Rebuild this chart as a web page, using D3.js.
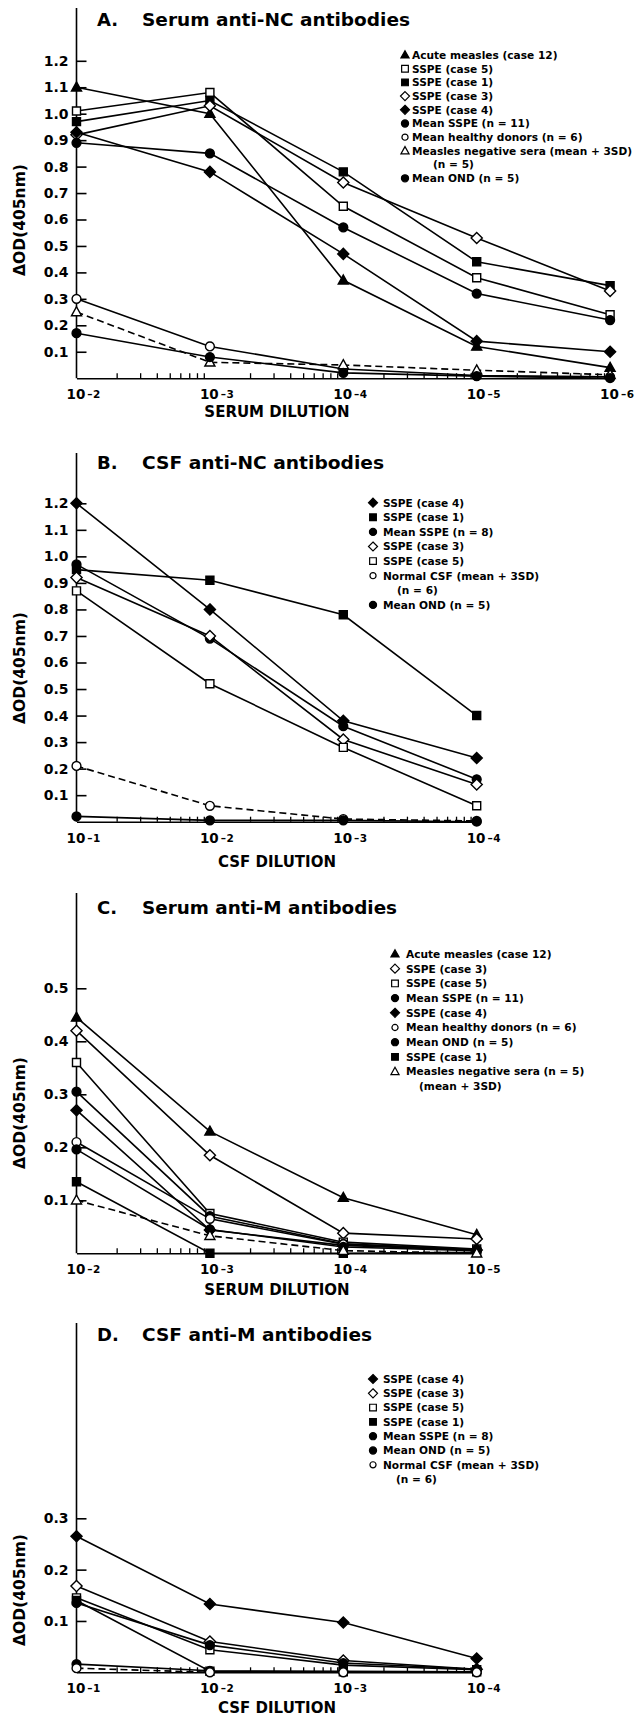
<!DOCTYPE html>
<html>
<head>
<meta charset="utf-8">
<script src="https://cdn.jsdelivr.net/npm/d3@7"></script>
<style>
  body { margin: 0; background: #fff; }
  text { font-family: 'DejaVu Sans', 'Liberation Sans', sans-serif; font-weight: bold; fill: #000; }
</style>
</head>
<body>
<div id="plot"></div>
<script>
// ---- data ----
// dilutions are given as exponents: 2 -> 10^-2
const serumNCDilutions = [2, 3, 4, 5, 6];
const serumNCTicks = [0.1, 0.2, 0.3, 0.4, 0.5, 0.6, 0.7, 0.8, 0.9, 1.0, 1.1, 1.2];
const serumNCSeries = ["Acute measles (case 12)", "SSPE (case 5)", "SSPE (case 1)", "SSPE (case 3)", "SSPE (case 4)",
  "Mean SSPE (n = 11)", "Mean healthy donors (n = 6)", "Measles negative sera (mean + 3SD)\n(n = 5)", "Mean OND (n = 5)"];
const serumNCValues = [
  [1.10, 1.00, 0.37, 0.12, 0.04],
  [1.01, 1.08, 0.65, 0.38, 0.24],
  [0.97, 1.05, 0.78, 0.44, 0.35],
  [0.92, 1.03, 0.74, 0.53, 0.33],
  [0.93, 0.78, 0.47, 0.14, 0.10],
  [0.89, 0.85, 0.57, 0.32, 0.22],
  [0.30, 0.12, 0.035, 0.01, 0.005],
  [0.25, 0.06, 0.05, 0.03, 0.013],
  [0.17, 0.08, 0.02, 0.008, 0.0]
];

const csfNCDilutions = [1, 2, 3, 4];
const csfNCTicks = [0.1, 0.2, 0.3, 0.4, 0.5, 0.6, 0.7, 0.8, 0.9, 1.0, 1.1, 1.2];
const csfNCSeries = ["SSPE (case 4)", "SSPE (case 1)", "Mean SSPE (n = 8)", "SSPE (case 3)", "SSPE (case 5)",
  "Normal CSF  (mean + 3SD)\n(n = 6)", "Mean OND (n = 5)"];
const csfNCValues = [
  [1.20, 0.80, 0.38, 0.24],
  [0.95, 0.91, 0.78, 0.40],
  [0.97, 0.69, 0.36, 0.16],
  [0.92, 0.70, 0.31, 0.14],
  [0.87, 0.52, 0.28, 0.06],
  [0.21, 0.06, 0.01, 0.003],
  [0.02, 0.005, 0.005, 0.0]
];

const serumMDilutions = [2, 3, 4, 5];
const serumMTicks = [0.1, 0.2, 0.3, 0.4, 0.5];
const serumMSeries = ["Acute measles (case 12)", "SSPE (case 3)", "SSPE (case 5)", "Mean SSPE (n = 11)", "SSPE (case 4)",
  "Mean healthy donors (n = 6)", "Mean OND (n = 5)", "SSPE (case 1)", "Measles negative sera (n = 5)\n(mean + 3SD)"];
const serumMValues = [
  [0.445, 0.23, 0.105, 0.035],
  [0.42, 0.185, 0.038, 0.027],
  [0.36, 0.075, 0.021, 0.008],
  [0.305, 0.07, 0.018, 0.007],
  [0.27, 0.044, 0.015, 0.006],
  [0.21, 0.065, 0.017, 0.006],
  [0.196, 0.045, 0.012, 0.005],
  [0.135, 0.0, 0.0, 0.002],
  [0.10, 0.033, 0.005, 0.0]
];

const csfMDilutions = [1, 2, 3, 4];
const csfMTicks = [0.1, 0.2, 0.3];
const csfMSeries = ["SSPE (case 4)", "SSPE (case 3)", "SSPE (case 5)", "SSPE (case 1)", "Mean SSPE (n = 8)",
  "Mean OND (n = 5)", "Normal CSF  (mean + 3SD)\n(n = 6)"];
const csfMValues = [
  [0.265, 0.133, 0.097, 0.027],
  [0.168, 0.06, 0.023, 0.006],
  [0.145, 0.044, 0.014, 0.005],
  [0.14, 0.002, 0.001, 0.001],
  [0.135, 0.053, 0.018, 0.006],
  [0.016, 0.003, 0.002, 0.001],
  [0.008, 0.0, 0.0, 0.0]
];

// ---- layout of the four panels ----
const panels = [
  { label: "A.", title: "Serum anti-NC antibodies", titleLen: 268, xTitle: "SERUM DILUTION",
    dil: serumNCDilutions, ticks: serumNCTicks, names: serumNCSeries, values: serumNCValues,
    top: 8, base: 378.2, ref: 1.2, refY: 60.8, titleY: 20, xTitleY: 412, yLabelY: 220,
    legX: 405, legTextX: 412, legY: 55, legDy: 13.7, indent: 21 },
  { label: "B.", title: "CSF anti-NC antibodies", titleLen: 242, xTitle: "CSF DILUTION",
    dil: csfNCDilutions, ticks: csfNCTicks, names: csfNCSeries, values: csfNCValues,
    top: 453, base: 821.7, ref: 1.2, refY: 503.3, titleY: 463, xTitleY: 862, yLabelY: 668,
    legX: 373, legTextX: 383, legY: 502.7, legDy: 14.6, indent: 14 },
  { label: "C.", title: "Serum anti-M antibodies", titleLen: 255, xTitle: "SERUM DILUTION",
    dil: serumMDilutions, ticks: serumMTicks, names: serumMSeries, values: serumMValues,
    top: 893, base: 1253.3, ref: 0.5, refY: 988.3, titleY: 908, xTitleY: 1290, yLabelY: 1113,
    legX: 395, legTextX: 406, legY: 954, legDy: 14.7, indent: 13 },
  { label: "D.", title: "CSF anti-M antibodies", titleLen: 230, xTitle: "CSF DILUTION",
    dil: csfMDilutions, ticks: csfMTicks, names: csfMSeries, values: csfMValues,
    top: 1323, base: 1672.3, ref: 0.3, refY: 1518.3, titleY: 1335, xTitleY: 1708, yLabelY: 1590,
    legX: 373, legTextX: 383, legY: 1379, legDy: 14.3, indent: 13 }
];

const x0 = 76.5, decade = 133.4, xTitleX = 277;

const width = 637, height = 1716;
const svg = d3.select("#plot").append("svg")
  .attr("width", width)
  .attr("height", height);

// marker style per series
function styleFor(name) {
  if (name.startsWith("Acute")) return { shape: "triangle", open: false, dash: false };
  if (name.startsWith("Measles negative")) return { shape: "triangle", open: true, dash: true };
  if (name.startsWith("Normal CSF")) return { shape: "circle", open: true, dash: true };
  if (name.startsWith("Mean healthy")) return { shape: "circle", open: true, dash: false };
  if (name.startsWith("Mean")) return { shape: "circle", open: false, dash: false };
  if (name.includes("case 5")) return { shape: "square", open: true, dash: false };
  if (name.includes("case 1)")) return { shape: "square", open: false, dash: false };
  if (name.includes("case 3")) return { shape: "diamond", open: true, dash: false };
  return { shape: "diamond", open: false, dash: false };
}

function shapePath(shape, s) {
  if (shape === "circle") {
    const p = d3.path(); p.arc(0, 0, s * 0.85, 0, 2 * Math.PI); p.closePath(); return p.toString();
  }
  if (shape === "square") return `M${-s * 0.8},${-s * 0.8}H${s * 0.8}V${s * 0.8}H${-s * 0.8}Z`;
  if (shape === "diamond") return `M0,${-s * 1.05}L${s * 1.05},0L0,${s * 1.05}L${-s * 1.05},0Z`;
  return `M0,${-s}L${s * 0.95},${s * 0.7}L${-s * 0.95},${s * 0.7}Z`;
}

panels.forEach(p => {
  const g = svg.append("g");
  const first = p.dil[0], last = p.dil[p.dil.length - 1];

  // x: dilution factor 10^k on a log scale
  const x = d3.scaleLog()
    .domain([Math.pow(10, first), Math.pow(10, last)])
    .range([x0, x0 + decade * (last - first)]);
  const y = d3.scaleLinear()
    .domain([0, p.ref])
    .range([p.base, p.refY]);

  // minor log ticks along the x axis
  const minor = [];
  p.dil.slice(0, -1).forEach(k => { for (let n = 2; n <= 9; n++) minor.push(n * Math.pow(10, k)); });
  const xAxis = g.append("g")
    .attr("transform", `translate(0,${p.base})`)
    .call(d3.axisBottom(x).tickValues(minor).tickSizeInner(-5).tickSizeOuter(0).tickFormat(""));
  xAxis.select(".domain").attr("stroke-width", 1.6);
  xAxis.selectAll(".tick line").attr("stroke-width", 1.3);

  // decade labels 10^-k
  p.dil.forEach(k => {
    const t = g.append("text")
      .attr("x", x(Math.pow(10, k)) - 10)
      .attr("y", p.base + 21)
      .attr("font-size", 13.5);
    t.append("tspan").text("10");
    t.append("tspan").attr("font-size", 10.5).attr("dx", 2).attr("dy", -1).text("\u2013");
    t.append("tspan").attr("font-size", 10.5).attr("dx", 0.5).text(k);
  });

  // y axis with inward ticks
  const yAxis = g.append("g")
    .attr("transform", `translate(${x0},0)`)
    .call(d3.axisLeft(y).tickValues(p.ticks).tickSizeInner(-10).tickSizeOuter(0).tickPadding(8)
      .tickFormat(d3.format(".1f")));
  yAxis.select(".domain").remove();
  yAxis.selectAll(".tick line").attr("stroke-width", 1.6);
  yAxis.selectAll(".tick text").attr("font-size", 14).attr("font-family", "'DejaVu Sans', sans-serif")
    .attr("font-weight", "bold").attr("fill", "#000");
  g.append("line")
    .attr("x1", x0).attr("x2", x0)
    .attr("y1", p.top).attr("y2", p.base)
    .attr("stroke", "#000").attr("stroke-width", 1.6);

  // titles
  g.append("text").attr("x", 97).attr("y", p.titleY).attr("dy", "0.36em")
    .attr("font-size", 18).text(p.label);
  g.append("text").attr("x", 142).attr("y", p.titleY).attr("dy", "0.36em")
    .attr("font-size", 18).attr("textLength", p.titleLen).attr("lengthAdjust", "spacingAndGlyphs")
    .text(p.title);
  g.append("text").attr("x", xTitleX).attr("y", p.xTitleY).attr("dy", "0.36em")
    .attr("text-anchor", "middle").attr("font-size", 15).text(p.xTitle);
  g.append("text")
    .attr("transform", `translate(19,${p.yLabelY}) rotate(-90)`)
    .attr("dy", "0.36em").attr("text-anchor", "middle")
    .attr("font-size", 15.5).text("\u0394OD(405nm)");

  // lines
  const line = d3.line()
    .x((d, i) => x(Math.pow(10, p.dil[i])))
    .y(d => y(d));
  p.names.forEach((name, si) => {
    const st = styleFor(name);
    g.append("path")
      .attr("d", line(p.values[si]))
      .attr("fill", "none")
      .attr("stroke", "#000")
      .attr("stroke-width", 1.6)
      .attr("stroke-dasharray", st.dash ? "7,4" : null);
  });
  // markers on top
  p.names.forEach((name, si) => {
    const st = styleFor(name);
    const size = st.shape === "circle" ? 5.2 : st.shape === "square" ? 5 : 5.3;
    g.selectAll(null)
      .data(p.values[si])
      .join("path")
      .attr("transform", (d, i) => `translate(${x(Math.pow(10, p.dil[i]))},${y(d)})`)
      .attr("d", shapePath(st.shape, size))
      .attr("fill", st.open ? "#fff" : "#000")
      .attr("stroke", "#000")
      .attr("stroke-width", 1.4);
  });

  // legend
  let row = 0;
  p.names.forEach(name => {
    const st = styleFor(name);
    const ly = p.legY + row * p.legDy;
    const lsize = st.shape === "circle" ? (st.open ? 3.6 : 4.2) : st.shape === "square" ? 4.2 : 4.3;
    g.append("path")
      .attr("transform", `translate(${p.legX},${ly})`)
      .attr("d", shapePath(st.shape, lsize))
      .attr("fill", st.open ? "#fff" : "#000")
      .attr("stroke", "#000")
      .attr("stroke-width", 1.2);
    name.split("\n").forEach((part, li) => {
      g.append("text")
        .attr("x", p.legTextX + (li ? p.indent : 0))
        .attr("y", p.legY + (row + li) * p.legDy)
        .attr("dy", "0.36em")
        .attr("font-size", 10.6)
        .text(part);
    });
    row += name.split("\n").length;
  });
});
</script>
</body>
</html>
